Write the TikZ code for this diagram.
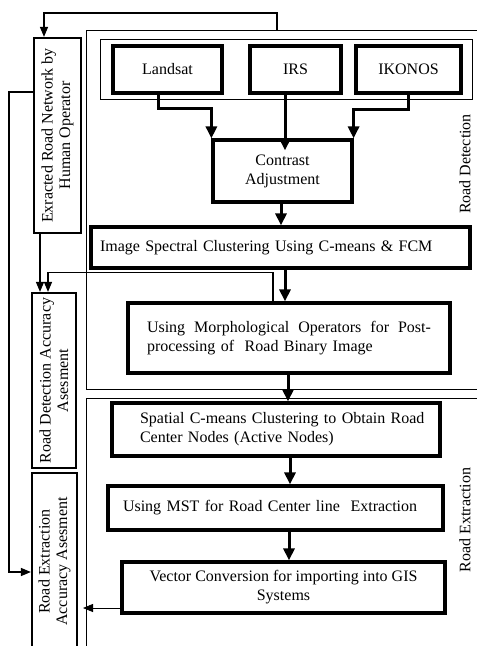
\documentclass[tikz,border=0pt]{standalone}
\usepackage{fontspec}
\setmainfont{Liberation Serif}
\usetikzlibrary{arrows.meta}
\begin{document}
\begin{tikzpicture}[x=1pt,y=-1pt,
  every node/.style={font=\fontsize{16}{19}\selectfont, inner sep=0pt},
  tbox/.style={draw, line width=3.2pt, align=center},
  mbox/.style={draw, line width=2.2pt, align=center, rotate=90, font=\fontsize{16}{17.5}\selectfont},
  frame/.style={line width=1pt},
  thickarrow/.style={line width=3pt, -{Triangle[width=11pt,length=12pt]}},
  thinarrow/.style={line width=1.3pt, -{Triangle[width=8pt,length=10pt]}},
  hairarrow/.style={line width=0.8pt, -{Triangle[width=8pt,length=10pt]}}]
\useasboundingbox (0,0) rectangle (477,646);
% frames
\draw[frame] (86,30) rectangle (480,389);
\draw[frame] (100,39) rectangle (472,99);
\draw[frame] (86,398) rectangle (480,660);
% source boxes
\node[tbox, minimum width=109pt, minimum height=47pt] (landsat) at (167.5,69.5) {Landsat};
\node[tbox, minimum width=91pt, minimum height=47pt] (irs) at (295.5,69.5) {IRS};
\node[tbox, minimum width=105pt, minimum height=47pt] (ikonos) at (408.5,69.5) {IKONOS};
% process boxes
\node[tbox, minimum width=139pt, minimum height=62pt] (contrast) at (282.5,171) {Contrast\\Adjustment};
\node[tbox, minimum width=379pt, minimum height=41pt, text width=361pt, align=left] (isc) at (280.5,247.5) {Image Spectral Clustering Using C-means \& FCM};
\node[tbox, minimum width=322pt, minimum height=70pt, text width=284pt, align=left] (morph) at (289,338)
  {\hbox to 284pt{Using\hfill Morphological\hfill Operators\hfill for\hfill Post-}\\processing of\ \ Road Binary Image};
\node[tbox, minimum width=328pt, minimum height=53pt, text width=272pt, align=left] (scc) at (276,429.5)
  {\makebox[272pt][l]{Spatial C-means Clustering to Obtain Road}\\Center Nodes (Active Nodes)};
\node[tbox, minimum width=335pt, minimum height=44pt, text width=305pt, align=left] (mst) at (275.5,508)
  {Using MST for Road Center line\ \ Extraction};
\node[tbox, minimum width=323pt, minimum height=51pt] (vec) at (283.5,587.5)
  {Vector Conversion for importing into GIS\\Systems};
% side boxes (rotated: east = top, west = bottom, north = left side)
\node[mbox, minimum width=195pt, minimum height=47pt] (ext) at (57.5,135.5) {Exracted Road Network by\\Human Operator};
\node[mbox, minimum width=175pt, minimum height=44pt] (rda) at (54,380.5) {Road Detection Accuracy\\Asesment};
\node[mbox, minimum width=177pt, minimum height=45pt] (rea) at (54.5,561.5) {Road Extraction\\Accuracy Asesment};
% section labels
\node[rotate=90] (rdlab) at (465,164) {Road Detection};
\node[rotate=90] (relab) at (465,520) {Road Extraction};
% connectors
\coordinate (t1) at (277,30);
\draw[thinarrow] (t1) -- ++(0,-17) -| ([xshift=-13.5pt]ext.east);
\draw[thinarrow] ([yshift=43.5pt]ext.north) -- (9,92) |- ([yshift=-10.5pt]rea.north);
\draw[thinarrow] ([xshift=-17.5pt]ext.west) -- ([xshift=-14pt]rda.east);
\draw[thinarrow] ([xshift=-16pt]morph.north) -- ++(0,-29) -| ([xshift=-6pt]rda.east);
\draw[thickarrow] ([xshift=-9.5pt]landsat.south) -- ++(0,14) -| (contrast.north west);
\draw[thickarrow] ([xshift=-10.5pt]irs.south) -- ([xshift=2.5pt,yshift=-12pt]contrast.north);
\draw[thickarrow] ([xshift=-0.5pt]ikonos.south) -- ++(0,15) -| (contrast.north east);
\draw[thickarrow] ([xshift=-1.5pt]contrast.south) -- ([xshift=0.5pt]isc.north);
\draw[thickarrow] ([xshift=4.5pt]isc.south) -- ([xshift=-4pt]morph.north);
\draw[thickarrow] ([xshift=-1pt]morph.south) -- ([xshift=12pt]scc.north);
\draw[thickarrow] ([xshift=14pt]scc.south) -- ([xshift=14.5pt]mst.north);
\draw[thickarrow] ([xshift=13.5pt]mst.south) -- ([xshift=5.5pt]vec.north);
\coordinate (vl) at (83,608);
\draw[hairarrow] ([yshift=-20.5pt]vec.west) -- (vl);
\end{tikzpicture}
\end{document}
